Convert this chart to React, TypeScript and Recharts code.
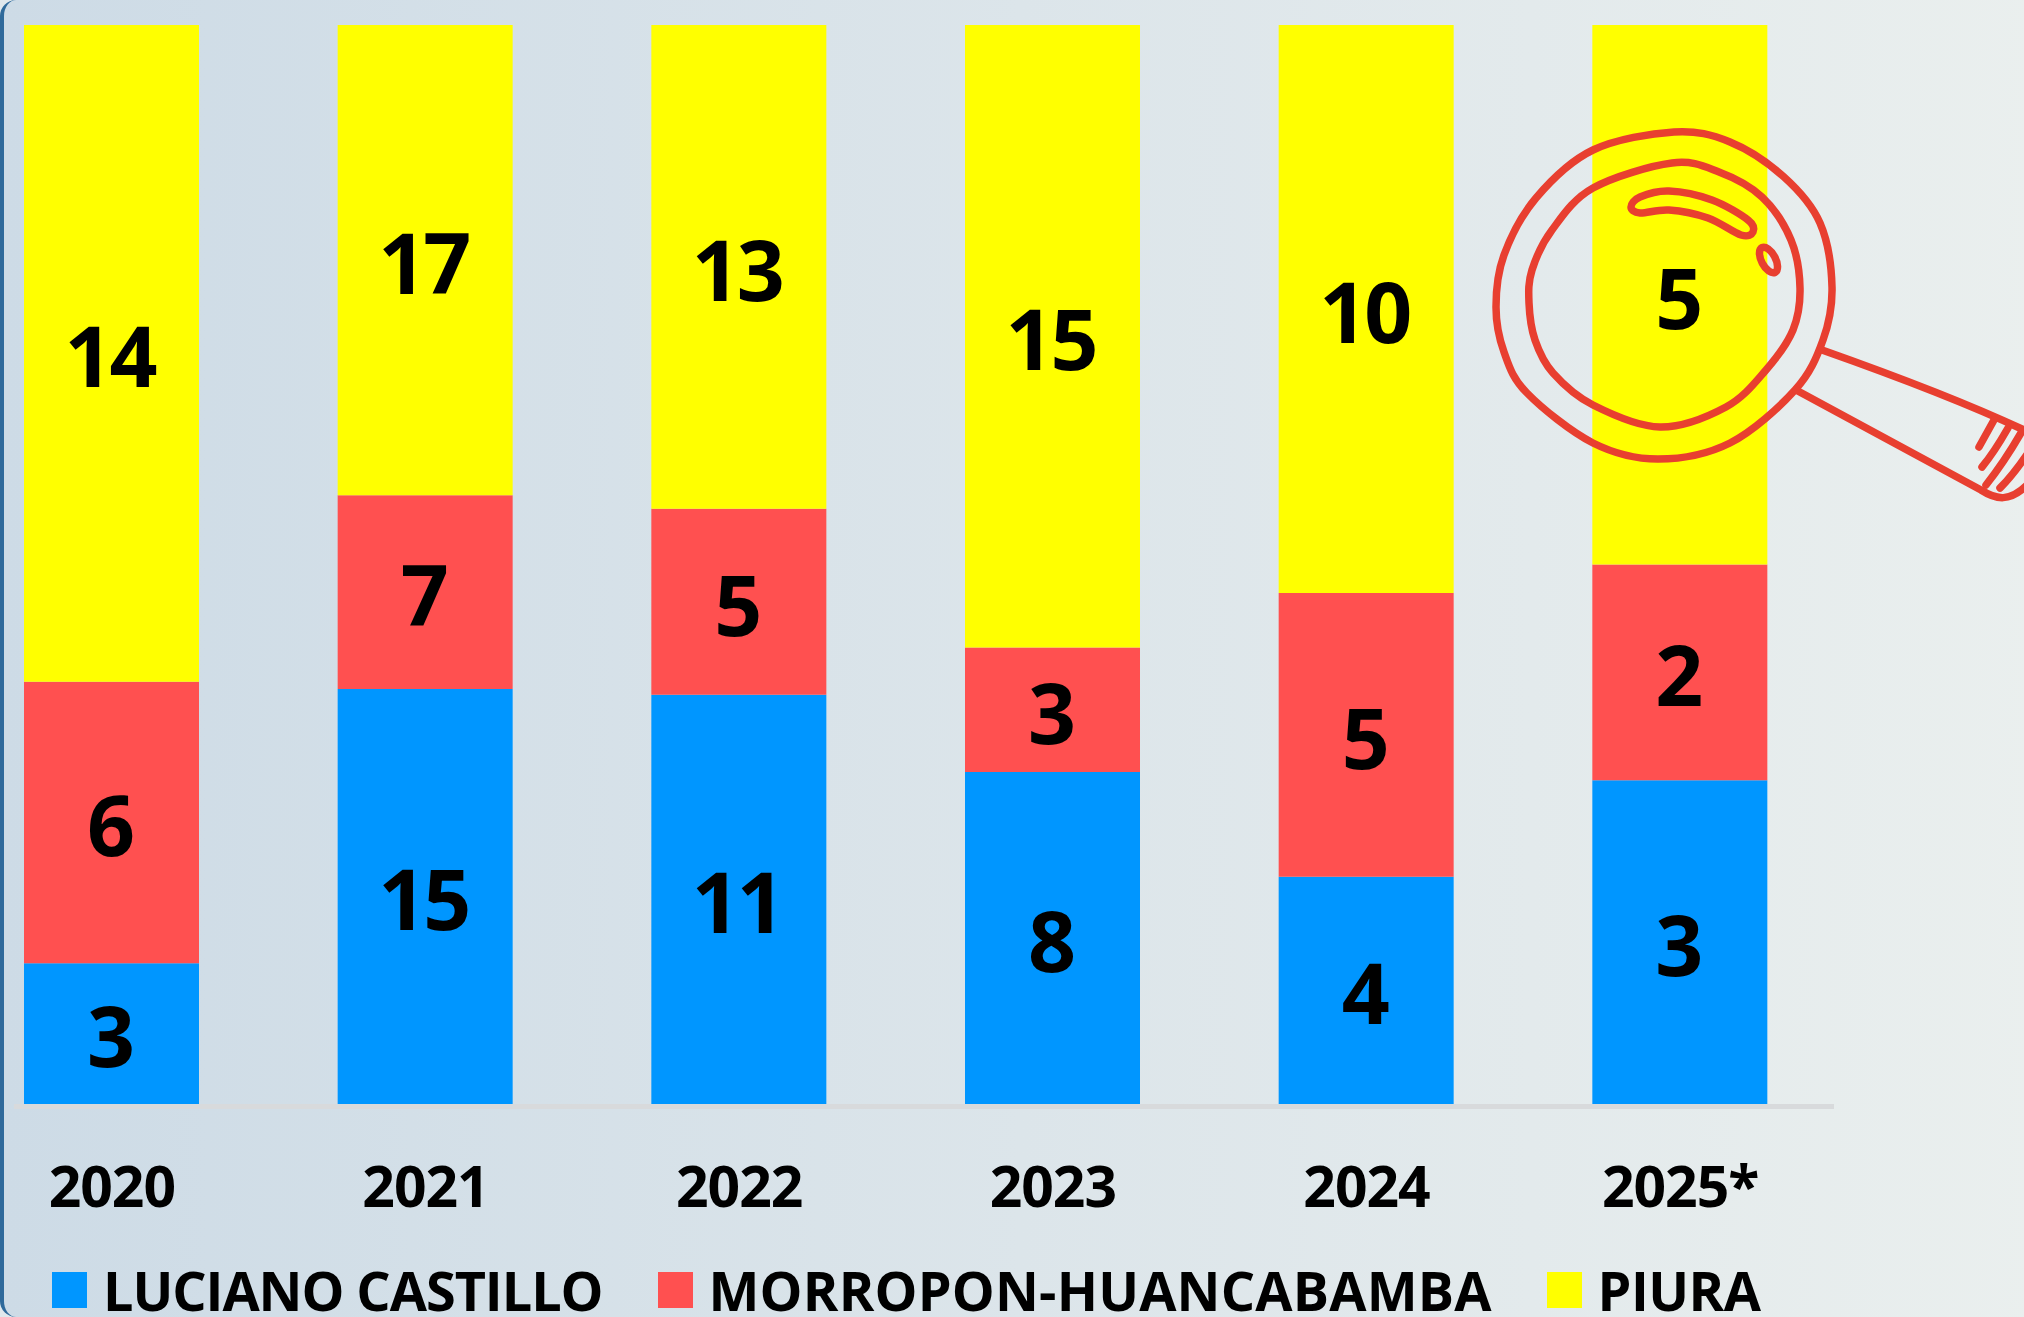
import { BarChart, Bar, XAxis, YAxis, Legend, LabelList } from "recharts";

const years = ["2020", "2021", "2022", "2023", "2024", "2025*"];
const seriesNames = ["LUCIANO CASTILLO", "MORROPON-HUANCABAMBA", "PIURA"];
const seriesColors = ["#0096FF", "#FF5050", "#FFFF00"];
const lucianoCastillo = [3, 15, 11, 8, 4, 3];
const morroponHuancabamba = [6, 7, 5, 3, 5, 2];
const piura = [14, 17, 13, 15, 10, 5];

const FONT = "'Open Sans', sans-serif";
const RED_LINE = "#E83F30";

const chartData = years.map((year, i) => ({
    year,
    "LUCIANO CASTILLO": lucianoCastillo[i],
    "MORROPON-HUANCABAMBA": morroponHuancabamba[i],
    PIURA: piura[i],
}));

// closed smooth outline through hand placed points (decoration only)
function blob(pts: number[][]) {
    const n = pts.length;
    let d = `M${pts[0][0]},${pts[0][1]}`;
    for (let i = 0; i < n; i++) {
        const p0 = pts[(i - 1 + n) % n];
        const p1 = pts[i];
        const p2 = pts[(i + 1) % n];
        const p3 = pts[(i + 2) % n];
        const c1 = [p1[0] + (p2[0] - p0[0]) / 6, p1[1] + (p2[1] - p0[1]) / 6];
        const c2 = [p2[0] - (p3[0] - p1[0]) / 6, p2[1] - (p3[1] - p1[1]) / 6];
        d += ` C${c1[0]},${c1[1]} ${c2[0]},${c2[1]} ${p2[0]},${p2[1]}`;
    }
    return d + "Z";
}

const outerRing = [[1674, 132], [1593, 150], [1536, 198], [1504, 255], [1496, 307], [1504, 352], [1527, 393], [1593, 443], [1658, 459], [1730, 443], [1795, 390], [1823, 340], [1832, 287], [1820, 223], [1784, 177], [1730, 142]];
const innerRing = [[1672, 163], [1593, 188], [1552, 230], [1532, 270], [1529, 303], [1535, 340], [1553, 373], [1593, 405], [1660, 427], [1726, 407], [1766, 370], [1793, 330], [1800, 288], [1791, 240], [1762, 197], [1719, 172]];
const glare = [[1669, 191], [1640, 197], [1631, 207], [1640, 213], [1669, 210], [1708, 218], [1741, 235], [1753, 232], [1748, 220], [1712, 200]];

function Magnifier() {
    return (
        <svg width={2024} height={1317} style={{ position: "absolute", left: 0, top: 0, pointerEvents: "none" }}>
            <g fill="none" stroke={RED_LINE} strokeWidth={7.5} strokeLinecap="round" strokeLinejoin="round">
                <path d={blob(outerRing)} />
                <path d={blob(innerRing)} />
                <path d={blob(glare)} />
                <ellipse cx={1768.5} cy={260} rx={7} ry={14} transform="rotate(-28 1768.5 260)" />
                <path d="M1822,350 C1890,374 1960,400 2024,430" />
                <path d="M1796,390 L1981,490 C1995,499 2010,504 2030,482" />
                <path d="M1994,420 L1979,447" />
                <path d="M2008,428 C2000,442 1992,455 1982,467" />
                <path d="M2021,433 C2010,452 1998,470 1986,485" />
                <path d="M2030,450 C2020,465 2010,478 2000,488" />
            </g>
        </svg>
    );
}

const legendWidths = [605.5, 889, 240];
const legendSpacing = [-1.05, 0.2, -0.5];

function LegendRow() {
    return (
        <div style={{ display: "flex", alignItems: "center", height: 50, marginLeft: 97, marginTop: 8, fontFamily: FONT, fontWeight: 700, fontSize: 54, color: "#000", whiteSpace: "nowrap" }}>
            {seriesNames.map((name, i) => (
                <div key={name} style={{ display: "flex", alignItems: "center", width: legendWidths[i] }}>
                    <span style={{ width: 35, height: 36, background: seriesColors[i], marginRight: 16, display: "inline-block" }} />
                    <span style={{ letterSpacing: legendSpacing[i] }}>{name}</span>
                </div>
            ))}
        </div>
    );
}

export default function App() {
    return (
        <div style={{ position: "absolute", left: 0, top: 0, width: 2024, height: 1317, overflow: "hidden", background: "#E0E8EC" }}>
            <div style={{ position: "absolute", left: 0, top: 0, width: 2040, height: 1317, boxSizing: "border-box", borderLeft: "4px solid #2F6A9B", borderRadius: "16px 0 0 16px", background: "linear-gradient(90deg, #CDDBE6 0%, #DCE5EA 50%, #EAEFEE 100%)" }} />
            <div style={{ position: "absolute", left: 14, top: 1104, width: 1820, height: 5, background: "#D8DADC" }} />
            <div style={{ position: "absolute", left: 0, top: 0 }}>
                <BarChart width={2024} height={1317} data={chartData} stackOffset="expand" barSize={175} margin={{ top: 25, right: 187, bottom: 0, left: -45 }}>
                    <XAxis dataKey="year" axisLine={false} tickLine={false} height={153} tickMargin={57} interval={0} tick={{ fontFamily: FONT, fontWeight: 700, fontSize: 57, fill: "#000", letterSpacing: -1 }} />
                    <YAxis hide domain={[0, 1]} />
                    <Legend verticalAlign="bottom" align="left" height={60} content={() => <LegendRow />} />
                    {seriesNames.map((name, i) => (
                        <Bar key={name} dataKey={name} stackId="a" fill={seriesColors[i]} isAnimationActive={false}>
                            <LabelList dataKey={name} position="center" dx={-2} dy={4} style={{ fontFamily: FONT, fontWeight: 700, fontSize: 84, fill: "#000", letterSpacing: -3 }} />
                        </Bar>
                    ))}
                </BarChart>
            </div>
            <Magnifier />
        </div>
    );
}
